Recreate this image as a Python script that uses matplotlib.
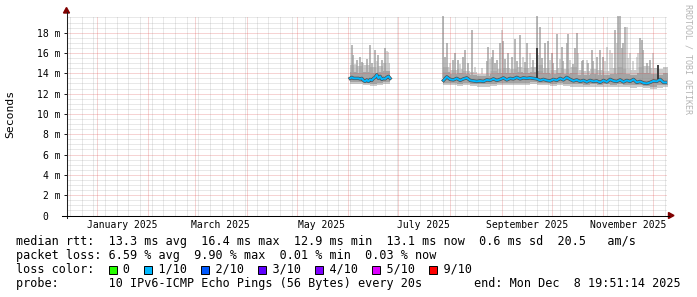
"""SmokePing style 360-day latency graph (median rtt + smoke) redrawn with matplotlib."""
import matplotlib
matplotlib.use("Agg")
import matplotlib.pyplot as plt
import matplotlib.dates as mdates
import matplotlib.transforms as mtransforms
from matplotlib.lines import Line2D
from matplotlib.patches import Polygon, Rectangle
from matplotlib.ticker import MultipleLocator, FuncFormatter, NullFormatter
import pandas as pd

W, H = 697, 297
MONO = "DejaVu Sans Mono"

X_START = "2024-12-13 19:51:14"
X_END = "2025-12-08 19:51:14"
Y_MAX = 19.69  # ms

# ---- median rtt (ms) ----
SEG1_MED_START = "2025-06-02"   # daily
SEG1_MEDIAN = [13.5, 13.6, 13.5, 13.5, 13.5, 13.5, 13.45, 13.5, 13.3, 13.2,
               13.35, 13.2, 13.4, 13.3, 13.5, 13.6, 13.85, 13.5, 13.7, 13.4,
               13.5, 13.45, 13.6, 13.7, 13.5]
SEG2_MED_START = "2025-07-28"   # every 2 days
SEG2_MEDIAN = [13.3, 13.65, 13.4, 13.35, 13.5, 13.3, 13.45, 13.55, 13.3, 13.25,
               13.2, 13.25, 13.2, 13.35, 13.3, 13.45, 13.3, 13.4, 13.55, 13.35,
               13.5, 13.45, 13.6, 13.45, 13.55, 13.5, 13.55, 13.5, 13.45, 13.3,
               13.4, 13.3, 13.25, 13.4, 13.3, 13.5, 13.35, 13.6, 13.4, 13.25,
               13.35, 13.2, 13.3, 13.15, 13.3, 13.2, 13.25, 13.1, 13.3, 13.15,
               13.4, 13.25, 13.2, 13.35, 13.15, 13.3, 13.2, 13.4, 13.1, 13.2,
               13.05, 13.0, 13.1, 13.25, 13.2, 13.4, 13.1, 13.1]

# ---- smoke envelope (ms), 4-day steps ----
SEG1_SMOKE_HI = [14.8, 14.7, 14.8, 14.6, 14.7, 15.0, 15.0]
SEG1_MID_HI = [14.1, 14.0, 14.1, 14.0, 14.1, 14.2, 14.2]
SEG1_MID_LO = [13.1, 13.1, 13.0, 12.95, 13.0, 13.1, 13.1]
SEG1_SMOKE_LO = [12.9, 12.9, 12.8, 12.75, 12.8, 12.9, 12.9]

SEG2_SMOKE_HI = [14.6, 14.3, 14.4, 14.2, 14.1, 13.9, 13.9, 14.2, 14.4, 14.5,
                 14.4, 14.6, 14.5, 14.6, 14.8, 14.5, 14.3, 14.5, 14.4, 14.6,
                 14.3, 14.2, 14.4, 14.3, 14.2, 14.5, 14.6, 14.4, 14.3, 14.6,
                 14.7, 14.5, 14.4, 14.6, 14.4]
SEG2_MID_HI = [14.1, 13.9, 14.0, 13.9, 13.8, 13.7, 13.7, 13.9, 14.0, 14.0,
               14.0, 14.1, 14.0, 14.1, 14.2, 14.0, 13.9, 14.0, 13.9, 14.0,
               13.8, 13.8, 13.9, 13.8, 13.8, 13.9, 14.0, 13.9, 13.8, 14.0,
               14.0, 13.9, 13.8, 14.0, 13.9]
SEG2_MID_LO = [13.0, 13.0, 12.95, 13.0, 12.95, 12.9, 12.9, 12.95, 13.0, 13.0,
               13.05, 13.0, 13.05, 13.1, 13.05, 13.0, 12.95, 13.0, 12.95, 12.9,
               12.9, 12.85, 12.9, 12.85, 12.9, 12.85, 12.9, 12.85, 12.8, 12.85,
               12.75, 12.7, 12.8, 12.85, 12.8]
SEG2_SMOKE_LO = [12.8, 12.8, 12.75, 12.8, 12.75, 12.7, 12.7, 12.75, 12.8, 12.8,
                 12.85, 12.8, 12.85, 12.9, 12.85, 12.8, 12.75, 12.8, 12.75, 12.7,
                 12.7, 12.65, 12.7, 12.65, 12.7, 12.65, 12.7, 12.65, 12.6, 12.65,
                 12.55, 12.5, 12.6, 12.65, 12.6]

# ---- smoke spikes: day, top (ms), shade (l = outer ping only, m = two pings) ----
SPIKE_DATES = [
    "2025-06-03", "2025-06-04", "2025-06-05", "2025-06-06", "2025-06-08",
    "2025-06-09", "2025-06-10", "2025-06-12", "2025-06-14", "2025-06-15",
    "2025-06-17", "2025-06-18", "2025-06-19", "2025-06-21", "2025-06-23",
    "2025-06-24", "2025-06-25",
    "2025-07-28", "2025-07-29", "2025-07-30", "2025-08-01", "2025-08-03",
    "2025-08-04", "2025-08-06", "2025-08-07", "2025-08-09", "2025-08-10",
    "2025-08-12", "2025-08-14", "2025-08-16", "2025-08-20", "2025-08-23",
    "2025-08-24", "2025-08-25", "2025-08-26", "2025-08-27", "2025-08-28",
    "2025-08-29", "2025-08-31", "2025-09-01", "2025-09-02", "2025-09-03",
    "2025-09-05", "2025-09-07", "2025-09-09", "2025-09-10", "2025-09-12",
    "2025-09-14", "2025-09-15", "2025-09-16", "2025-09-18", "2025-09-20",
    "2025-09-22", "2025-09-23", "2025-09-24", "2025-09-25", "2025-09-27",
    "2025-09-29", "2025-09-30", "2025-10-01", "2025-10-02", "2025-10-04",
    "2025-10-06", "2025-10-07", "2025-10-08", "2025-10-10", "2025-10-11",
    "2025-10-12", "2025-10-14", "2025-10-15", "2025-10-16", "2025-10-17",
    "2025-10-19", "2025-10-20", "2025-10-22", "2025-10-23", "2025-10-25",
    "2025-10-26", "2025-10-28", "2025-10-30", "2025-11-01", "2025-11-02",
    "2025-11-03", "2025-11-05", "2025-11-06", "2025-11-08", "2025-11-09",
    "2025-11-10", "2025-11-11", "2025-11-12", "2025-11-13", "2025-11-14",
    "2025-11-15", "2025-11-16", "2025-11-17", "2025-11-19", "2025-11-21",
    "2025-11-22", "2025-11-23", "2025-11-24", "2025-11-25", "2025-11-26",
    "2025-11-27", "2025-11-29", "2025-12-01", "2025-12-02", "2025-12-04",
    "2025-12-05", "2025-12-07", "2025-12-08",
]
SPIKE_TOPS = [
    16.8, 15.8, 14.9, 15.3, 15.6, 15.1, 15.0, 15.4, 16.8, 15.0,
    16.3, 15.2, 15.8, 15.3, 16.5, 16.2, 16.1,
    19.7, 15.6, 17.0, 15.0, 15.3, 16.0, 15.3, 14.9, 15.6, 16.3,
    15.0, 18.3, 14.6, 14.5, 15.2, 16.6, 15.4, 15.6, 16.3, 15.0,
    15.3, 17.0, 18.3, 17.2, 15.4, 16.0, 15.6, 17.4, 15.2, 17.8,
    15.6, 15.1, 17.0, 16.0, 15.3, 19.7, 15.8, 18.6, 15.5, 17.0,
    17.2, 15.3, 16.0, 15.0, 17.9, 15.4, 16.6, 15.2, 17.0, 17.9,
    15.3, 14.9, 16.5, 18.0, 16.0, 15.2, 15.3, 15.3, 15.0, 16.3,
    15.2, 15.6, 16.3, 15.6, 15.2, 16.6, 16.3, 16.0, 18.3, 17.0,
    19.7, 19.7, 16.5, 17.0, 18.6, 18.6, 15.5, 16.0, 15.2, 15.6,
    16.0, 17.5, 17.3, 16.3, 14.7, 15.0, 15.3, 16.0, 15.2, 16.6,
    15.5, 15.0, 14.8,
]
SPIKE_SHADES = (
    "mmlmmmlmmmmlmmmll"
    "mmmlmmmlmmmmllmmlmmmmmlmmmmmmmlmmlmmlmmmmlmmmlmmmmlmmmlmmlmmmmmmllllmlmmmmmllllllmmmlmml"
)
# median excursions drawn in the darkest smoke shade
DARK_DATES = ["2025-09-22", "2025-12-04"]
DARK_TOPS = [16.5, 14.85]

# ---- legend data ----
RTT_VALUES = [13.3, 16.4, 12.9, 13.1, 0.6]
RTT_NAMES = ["avg", "max", "min", "now", "sd"]
RTT_AMS = "20.5"
LOSS_VALUES = [6.59, 9.90, 0.01, 0.03]
LOSS_NAMES = ["avg", "max", "min", "now"]
LOSS_LABELS = ["0", "1/10", "2/10", "3/10", "4/10", "5/10", "9/10"]
LOSS_COLORS = ["#26ff00", "#00b8ff", "#0059ff", "#5e00ff", "#7e00ff", "#dd00ff", "#ff0000"]
PROBE = "10 IPv6-ICMP Echo Pings (56 Bytes) every 20s"
END_TEXT = "end: Mon Dec  8 19:51:14 2025"
LABEL_MONTHS = ["2025-01-01", "2025-03-01", "2025-05-01", "2025-07-01", "2025-09-01", "2025-11-01"]

SHADE = {"l": "#cacaca", "m": "#a4a4a4"}


def fx(x):
    return x / W


def fy(y):
    return 1 - y / H


def main() -> None:
    fig = plt.figure(figsize=(W / 100, H / 100), dpi=100)
    fig.patch.set_facecolor("white")
    L, R, T, B = 66.5, 666.5, 15.5, 215.5
    ax = fig.add_axes([fx(L), fy(B), (R - L) / W, (B - T) / H])
    ax.set_facecolor("white")
    ax.set_xlim(pd.Timestamp(X_START), pd.Timestamp(X_END))
    ax.set_ylim(0, Y_MAX)
    for s in ax.spines.values():
        s.set_visible(False)

    # smoke bands
    seg1_smoke = pd.date_range(SEG1_MED_START, periods=len(SEG1_SMOKE_HI), freq="4D")
    seg2_smoke = pd.date_range(SEG2_MED_START, periods=len(SEG2_SMOKE_HI), freq="4D")
    for d, lo, hi, mlo, mhi in ((seg1_smoke, SEG1_SMOKE_LO, SEG1_SMOKE_HI, SEG1_MID_LO, SEG1_MID_HI),
                                (seg2_smoke, SEG2_SMOKE_LO, SEG2_SMOKE_HI, SEG2_MID_LO, SEG2_MID_HI)):
        ax.fill_between(d, lo, hi, step="post", color="#cacaca", lw=0, zorder=1)
        ax.fill_between(d, mlo, mhi, step="post", color="#a4a4a4", lw=0, zorder=2)

    # spikes
    sd = pd.to_datetime(SPIKE_DATES)
    for key, z in (("l", 1.5), ("m", 2.2)):
        idx = [i for i, c in enumerate(SPIKE_SHADES) if c == key]
        ax.vlines(sd[idx], 13.5, [SPIKE_TOPS[i] for i in idx], color=SHADE[key], lw=1.1, zorder=z)
    ax.vlines(pd.to_datetime(DARK_DATES), 13.4, DARK_TOPS, color="#323232", lw=1.3, zorder=3.5)

    # median, coloured by loss (1/10)
    seg1_med = pd.date_range(SEG1_MED_START, periods=len(SEG1_MEDIAN), freq="D")
    seg2_med = pd.date_range(SEG2_MED_START, periods=len(SEG2_MEDIAN), freq="2D")
    for d, v in ((seg1_med, SEG1_MEDIAN), (seg2_med, SEG2_MEDIAN)):
        ax.plot(d, v, color="#505050", lw=2.4, zorder=3)
        ax.plot(d, v, color=LOSS_COLORS[1], lw=1.4, zorder=4)

    # grid
    ax.xaxis.set_major_locator(mdates.MonthLocator())
    ax.xaxis.set_minor_locator(mdates.WeekdayLocator(byweekday=mdates.MO))
    ax.xaxis.set_major_formatter(NullFormatter())
    ax.yaxis.set_major_locator(MultipleLocator(2))
    ax.yaxis.set_minor_locator(MultipleLocator(0.5))
    ax.yaxis.set_major_formatter(FuncFormatter(lambda v, _: "0  " if v == 0 else f"{v:.0f} m"))
    ax.set_axisbelow(False)
    ax.grid(which="minor", color="#8f8f8f", alpha=0.4, lw=0.72, ls=(0, (1, 1)))
    ax.grid(which="major", color="#de5050", alpha=0.5, lw=0.72, ls=(0, (1, 1)))
    ax.tick_params(axis="x", which="both", length=0)
    ax.tick_params(axis="y", which="minor", length=0)
    ax.tick_params(axis="y", which="major", length=2.2, width=0.72, color="#212121",
                   pad=2, labelsize=7, labelfontfamily=MONO)

    # month labels (centred mid-month, rrdtool style)
    tr = mtransforms.blended_transform_factory(ax.transData, fig.transFigure)
    for m in LABEL_MONTHS:
        t0 = pd.Timestamp(m)
        ax.text(t0 + pd.Timedelta(days=15), fy(225), t0.strftime("%B %Y"), transform=tr,
                ha="center", va="center", fontsize=7, family=MONO)

    # axes with arrows
    fig.add_artist(Line2D([fx(L), fx(L)], [fy(218), fy(12)], color="#212121", lw=0.75))
    fig.add_artist(Line2D([fx(62), fx(669)], [fy(B), fy(B)], color="#000000", lw=0.75))
    fig.add_artist(Polygon([(fx(L - 3), fy(13)), (fx(L + 3), fy(13)), (fx(L), fy(7.5))],
                           closed=True, color="#800000", transform=fig.transFigure))
    fig.add_artist(Polygon([(fx(668.5), fy(B - 3)), (fx(668.5), fy(B + 3)), (fx(674), fy(B))],
                           closed=True, color="#800000", transform=fig.transFigure))

    fig.text(fx(10.5), fy(114), "Seconds", rotation=90, ha="center", va="center",
             fontsize=8.2, family=MONO)
    fig.text(fx(688), fy(4), "RRDTOOL / TOBI OETIKER", rotation=270, ha="center", va="top",
             fontsize=6, family=MONO, color="#b4b4b4")

    # legend rows
    fs = 8.5
    cw = 0.6021 * fs * 100 / 72
    x0 = 16.5
    row1 = "median rtt:  " + "  ".join(f"{v:.1f} ms {n}" for v, n in zip(RTT_VALUES, RTT_NAMES)) \
        + f"  {RTT_AMS}   am/s"
    row2 = "packet loss: " + "  ".join(f"{v:.2f} % {n}" for v, n in zip(LOSS_VALUES, LOSS_NAMES))
    row3 = "loss color:"
    pos = 13
    box_pos = []
    for lab in LOSS_LABELS:
        box_pos.append(pos)
        row3 = row3.ljust(pos + 2) + lab
        pos = len(row3) + 2
    row4 = "probe:       " + PROBE
    for y, s in ((241, row1), (255.5, row2), (269.5, row3), (283.5, row4)):
        fig.text(fx(x0), fy(y), s, ha="left", va="center", fontsize=fs, family=MONO)
    fig.text(fx(681), fy(283.5), END_TEXT, ha="right", va="center", fontsize=fs, family=MONO)
    for p, c in zip(box_pos, LOSS_COLORS):
        fig.add_artist(Rectangle((fx(x0 + p * cw), fy(274)), 8 / W, 8.5 / H, facecolor=c,
                                 edgecolor="black", lw=0.7, transform=fig.transFigure))

    fig.savefig("out.png", dpi=100, facecolor="white")
    plt.close(fig)


if __name__ == "__main__":
    main()
